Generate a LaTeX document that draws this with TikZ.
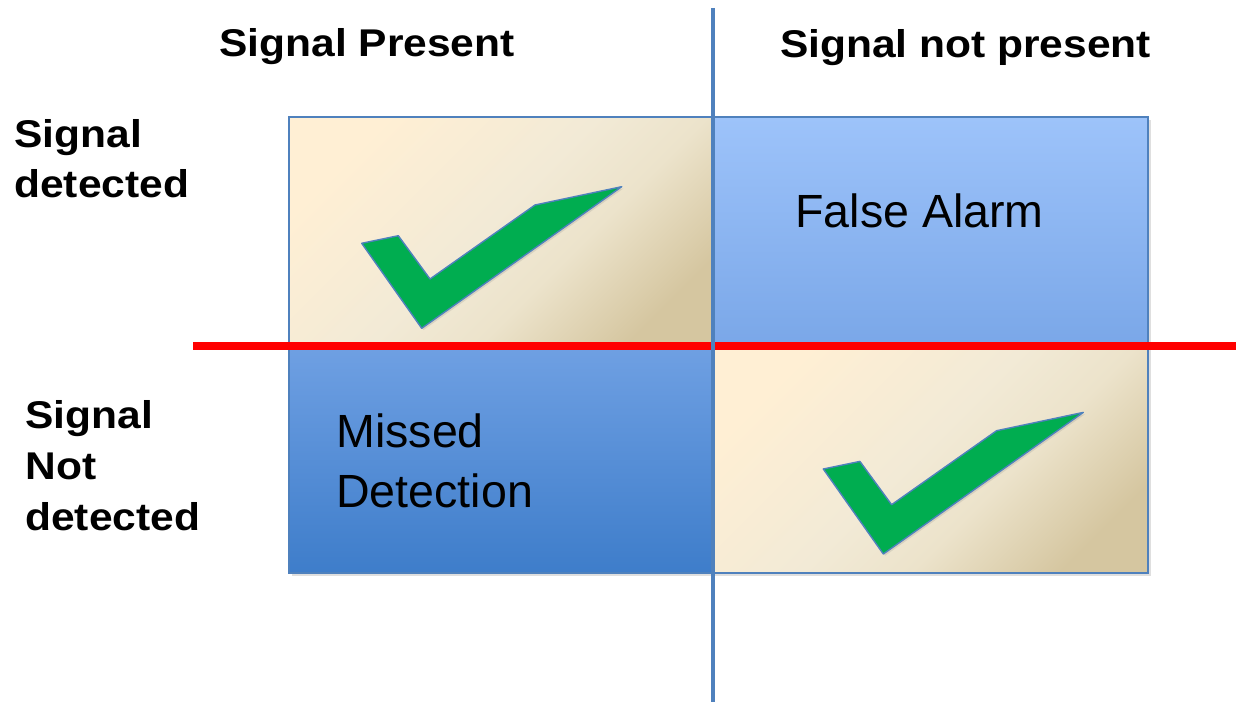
\documentclass[tikz,border=0pt]{standalone}
\usepackage{fontspec}
\setmainfont{Liberation Sans}
\newfontfamily\headfont[FakeStretch=1.1]{Liberation Sans}
\usetikzlibrary{positioning, shadows}

\definecolor{frameblue}{HTML}{4F81BD}
\definecolor{tickgreen}{HTML}{00AD50}
\definecolor{beigeA}{HTML}{FFEFD4}
\definecolor{beigeB}{HTML}{F2EAD6}
\definecolor{beigeM}{HTML}{ECE3CB}
\definecolor{beigeC}{HTML}{D5C6A0}
\definecolor{skyA}{HTML}{9DC3FA}
\definecolor{skyB}{HTML}{7AA7E8}
\definecolor{deepA}{HTML}{6FA0E3}
\definecolor{deepB}{HTML}{3E7DCA}

\pgfdeclarehorizontalshading{parchment}{100bp}{color(0bp)=(beigeA); color(25bp)=(beigeA);
    color(48bp)=(beigeB); color(60bp)=(beigeM); color(76bp)=(beigeC); color(100bp)=(beigeC)}

\begin{document}
\begin{tikzpicture}[
    x=0.02cm, y=-0.02cm,
    cell/.style={rectangle, draw=frameblue, line width=1.3pt, inner sep=0pt,
        drop shadow={shadow xshift=1.5pt, shadow yshift=-1.5pt, opacity=0.25}},
    hit/.style={cell, shading=parchment, shading angle=-45},
    falsebox/.style={cell, top color=skyA, bottom color=skyB},
    missbox/.style={cell, top color=deepA, bottom color=deepB},
    tick/.style={fill=tickgreen, draw=frameblue, line width=0.8pt, line join=round,
        drop shadow={shadow xshift=1pt, shadow yshift=-1pt, opacity=0.2}},
    axistext/.style={inner sep=0pt, font=\headfont\bfseries\fontsize{22}{29}\selectfont},
    celltext/.style={inner sep=0pt, font=\fontsize{26.5}{33.6}\selectfont},
    redline/.style={red, line width=4pt},
    blueline/.style={frameblue, line width=2.6pt}
]

\useasboundingbox (0,0) rectangle (1236,702);

% -------- Sizes (px -> cm) --------
\def\wleft{8.48cm}
\def\wright{8.7cm}
\def\htop{4.58cm}
\def\hbot{4.54cm}

% -------- The four cells --------
\node[hit, minimum width=\wleft, minimum height=\htop] (tl) at (501,231.5) {};
\node[falsebox, minimum width=\wright, minimum height=\htop] (tr) at (930.5,231.5) {};
\node[missbox, minimum width=\wleft, minimum height=\hbot] (bl) at (501,459.5) {};
\node[hit, minimum width=\wright, minimum height=\hbot] (br) at (930.5,459.5) {};

% -------- Check marks --------
\foreach \cx/\cy in {361.7/243.3, 823.3/469} {
    \begin{scope}[shift={(\cx,\cy)}]
        \draw[tick] (0,0) -- (36.6,-7.6) -- (68.3,35.7) -- (173.3,-38.3)
            -- (260,-56.6) -- (60,85) -- cycle;
    \end{scope}
}

% -------- Axes --------
\coordinate (hleft) at (193,346);
\coordinate (hright) at (1236,346);
\coordinate (vtop) at (713,8);
\coordinate (vbot) at (713,702);

\draw[redline] (hleft) -- (hright);
\draw[blueline] (vtop) -- (vbot);

% -------- Column and row labels (base = last line) --------
\node[axistext, anchor=base] (present) at (367,57) {Signal Present};
\node[axistext, anchor=base] (absent) at (965.5,58) {Signal not present};
\node[axistext, anchor=base west, align=left] (detected) at (14,198) {Signal\\detected};
\node[axistext, anchor=base west, align=left] (missed) at (25,530) {Signal\\Not\\detected};

% -------- Cell texts --------
\node[celltext, anchor=base west] (falsealarm) at (795,228) {False Alarm};
\node[celltext, anchor=base west, align=left] (misseddet) at (336,507) {Missed\\Detection};

\end{tikzpicture}
\end{document}
